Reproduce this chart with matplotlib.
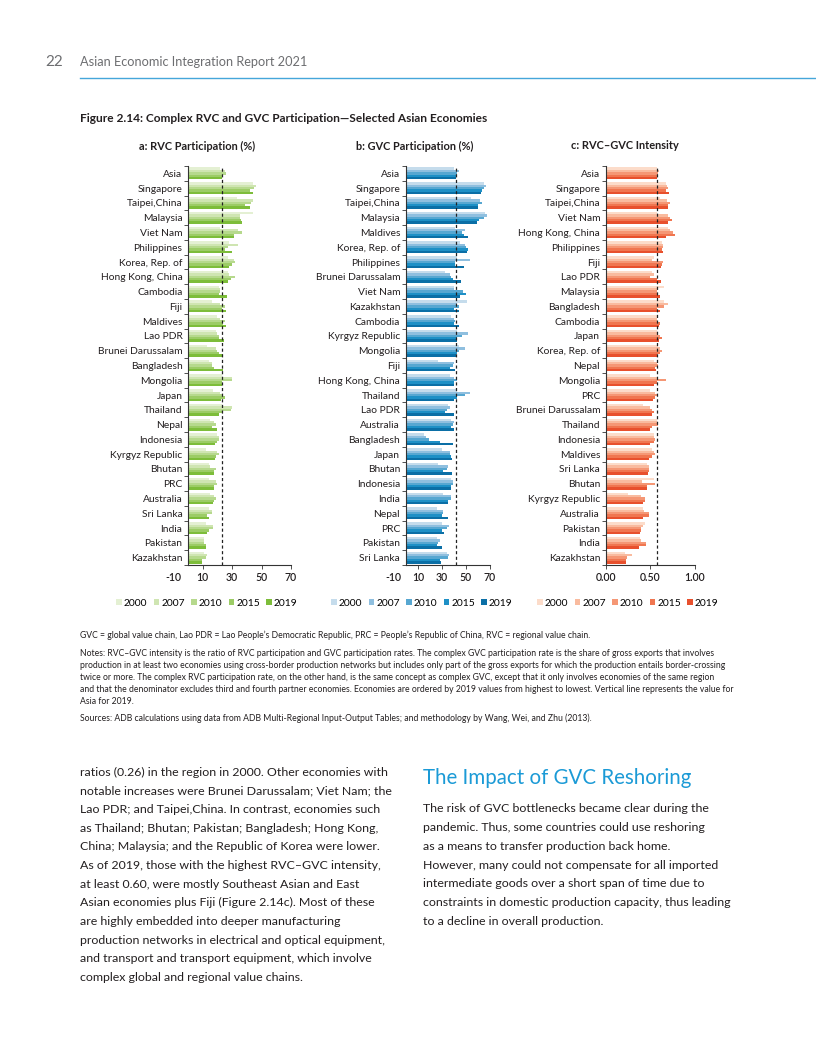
import matplotlib
matplotlib.use("Agg")
import matplotlib.pyplot as plt
from matplotlib.patches import Patch

plt.rcParams['font.family'] = ['Lato', 'DejaVu Sans']

years = ['2000', '2007', '2010', '2015', '2019']

# a: RVC participation (%)
rvc_names = ['Asia', 'Singapore', 'Taipei,China', 'Malaysia', 'Viet Nam', 'Philippines',
             'Korea, Rep. of', 'Hong Kong, China', 'Cambodia', 'Fiji', 'Maldives', 'Lao PDR',
             'Brunei Darussalam', 'Bangladesh', 'Mongolia', 'Japan', 'Thailand', 'Nepal',
             'Indonesia', 'Kyrgyz Republic', 'Bhutan', 'PRC', 'Australia', 'Sri Lanka',
             'India', 'Pakistan', 'Kazakhstan']
rvc_2000 = [22, 44, 33, 44, 22, 28, 27, 27, 21, 16, 20, 19, 13, 14, 23, 17, 23, 15, 20, 12, 14, 14, 15, 14, 12, 11, 11]
rvc_2007 = [25, 46, 44, 35, 34, 34, 31, 28, 22, 22, 22, 20, 19, 16, 30, 22, 30, 18, 21, 20, 15, 19, 18, 16, 17, 11, 13]
rvc_2010 = [26, 45, 43, 35, 37, 27, 32, 32, 22, 25, 25, 21, 20, 16, 30, 24, 29, 19, 21, 21, 19, 20, 19, 16, 17, 11, 12]
rvc_2015 = [24, 42, 39, 36, 31, 25, 30, 29, 21, 23, 24, 21, 21, 18, 23, 25, 24, 16, 20, 19, 18, 18, 18, 13, 14, 12, 9.5]
rvc_2019 = [23, 44, 42, 37, 31, 30, 28, 27, 26.5, 26, 25.5, 24.3, 24, 23.5, 23, 22.5, 21, 19.7, 18.6, 18.3, 17.8, 17.5, 17, 14, 13, 12, 9.5]

# b: GVC participation (%)
gvc_names = ['Asia', 'Singapore', 'Taipei,China', 'Malaysia', 'Maldives', 'Korea, Rep. of',
             'Philippines', 'Brunei Darussalam', 'Viet Nam', 'Kazakhstan', 'Cambodia',
             'Kyrgyz Republic', 'Mongolia', 'Fiji', 'Hong Kong, China', 'Thailand', 'Lao PDR',
             'Australia', 'Bangladesh', 'Japan', 'Bhutan', 'Indonesia', 'India', 'Nepal', 'PRC',
             'Pakistan', 'Sri Lanka']
gvc_2000 = [40, 65, 54, 66, 41, 45, 42.5, 33, 40, 51, 38, 42.5, 44, 27, 37, 42.5, 35.5, 38, 15, 30, 27, 38, 31, 26, 30, 26, 34]
gvc_2007 = [44, 67, 62, 67.5, 49, 49.5, 53.5, 37, 40, 42.5, 40, 52, 49.5, 40, 40, 53, 37, 40, 17, 37, 35, 39, 38, 31, 36, 28.5, 36]
gvc_2010 = [42.5, 65, 63, 65, 47, 50, 41, 38, 47.5, 44, 41, 47, 44, 39.5, 42.5, 49.5, 34, 39.5, 19.5, 37, 34, 39.5, 38, 31, 34, 27, 35]
gvc_2015 = [42, 63, 60, 61, 48, 51.5, 41, 39, 50, 40, 40, 42.5, 42.5, 36.5, 40, 42.5, 33, 38, 28.5, 38, 31, 38, 35.5, 30, 30, 26, 28.5]
gvc_2019 = [41.7, 62.5, 60, 59.5, 52, 50.8, 48, 45.8, 45, 44.5, 44, 42.5, 41.7, 41, 40.5, 40, 39.9, 39.7, 39, 38.5, 38.3, 38, 35.5, 35, 31.4, 30.5, 29.4]

# c: RVC-GVC intensity
int_names = ['Asia', 'Singapore', 'Taipei,China', 'Viet Nam', 'Hong Kong, China', 'Philippines',
             'Fiji', 'Lao PDR', 'Malaysia', 'Bangladesh', 'Cambodia', 'Japan', 'Korea, Rep. of',
             'Nepal', 'Mongolia', 'PRC', 'Brunei Darussalam', 'Thailand', 'Indonesia', 'Maldives',
             'Sri Lanka', 'Bhutan', 'Kyrgyz Republic', 'Australia', 'Pakistan', 'India', 'Kazakhstan']
int_2000 = [0.57, 0.68, 0.61, 0.57, 0.70, 0.63, 0.54, 0.52, 0.65, 0.65, 0.57, 0.57, 0.59, 0.54, 0.50, 0.50, 0.42, 0.57, 0.54, 0.52, 0.46, 0.54, 0.25, 0.42, 0.44, 0.385, 0.22]
int_2007 = [0.60, 0.69, 0.69, 0.70, 0.72, 0.64, 0.52, 0.54, 0.59, 0.70, 0.57, 0.59, 0.61, 0.57, 0.59, 0.55, 0.50, 0.58, 0.54, 0.54, 0.48, 0.41, 0.40, 0.43, 0.42, 0.40, 0.30]
int_2010 = [0.59, 0.70, 0.72, 0.72, 0.75, 0.64, 0.64, 0.50, 0.57, 0.65, 0.57, 0.61, 0.63, 0.59, 0.68, 0.57, 0.52, 0.59, 0.55, 0.55, 0.49, 0.55, 0.44, 0.48, 0.40, 0.45, 0.24]
int_2015 = [0.59, 0.67, 0.70, 0.74, 0.78, 0.63, 0.63, 0.57, 0.59, 0.57, 0.61, 0.63, 0.61, 0.55, 0.57, 0.55, 0.54, 0.52, 0.54, 0.52, 0.48, 0.46, 0.44, 0.48, 0.39, 0.45, 0.23]
int_2019 = [0.577, 0.71, 0.70, 0.695, 0.67, 0.64, 0.62, 0.618, 0.61, 0.605, 0.60, 0.595, 0.58, 0.56, 0.545, 0.53, 0.52, 0.50, 0.495, 0.49, 0.47, 0.46, 0.42, 0.415, 0.385, 0.37, 0.23]

greens = ['#e4f0d3', '#cfe5b2', '#b6d98d', '#9ccc66', '#7dbd3a']
blues = ['#c5dcec', '#8fbfdf', '#57a7d1', '#1e90c6', '#0b6fa6']
reds = ['#fcdcca', '#f9bb9f', '#f59775', '#f07650', '#e8502d']

W, H = 816, 1056
fig = plt.figure(figsize=(W / 100, H / 100), dpi=100)
txt = '#231f20'


def box(x0, x1, y0, y1):
    return [x0 / W, 1 - y1 / H, (x1 - x0) / W, (y1 - y0) / H]


def panel(rect, names, series, colors, xmin, xmax, ticks, ticklabels, zero_at):
    ax = fig.add_axes(rect)
    n = len(names)
    for j, vals in enumerate(series):
        ys = [i + (j - 2) * 0.16 for i in range(n)]
        ax.barh(ys, vals, height=0.16, color=colors[j], linewidth=0)
    # vertical line = Asia 2019 value
    ax.axvline(series[-1][0], color='#222222', lw=0.9, ls=(0, (2.5, 2)))
    ax.set_xlim(xmin, xmax)
    ax.set_ylim(n - 0.5, -0.5)
    for s in ['top', 'right']:
        ax.spines[s].set_visible(False)
    ax.spines['left'].set_position(('data', zero_at))
    ax.spines['bottom'].set_bounds(zero_at, xmax)
    for s in ['left', 'bottom']:
        ax.spines[s].set_linewidth(0.8)
        ax.spines[s].set_color('#333333')
    ax.set_yticks(range(n))
    ax.set_yticklabels(names, fontsize=7.4, color=txt)
    ax.set_yticks([i + 0.5 for i in range(-1, n)], minor=True)
    ax.tick_params(axis='y', which='major', length=0, pad=4)
    ax.tick_params(axis='y', which='minor', length=3, width=0.6, color='#333333')
    ax.set_xticks(ticks)
    ax.set_xticklabels(ticklabels, fontsize=7.6, color=txt, weight='semibold')
    ax.tick_params(axis='x', length=3, width=0.6, color='#333333', pad=2)
    if ticks[0] < zero_at:
        ax.xaxis.get_major_ticks()[0].tick1line.set_visible(False)
    return ax


# panel a: zero at x=188, 70 at x=291
panel(box(173.3, 291, 166, 565), rvc_names,
      [rvc_2000, rvc_2007, rvc_2010, rvc_2015, rvc_2019], greens,
      -10, 70, [-10, 10, 30, 50, 70], ['-10', '10', '30', '50', '70'], 0)
# panel b: zero at x=405.7, 70 at x=490
panel(box(393.7, 490, 166, 565), gvc_names,
      [gvc_2000, gvc_2007, gvc_2010, gvc_2015, gvc_2019], blues,
      -10, 70, [-10, 10, 30, 50, 70], ['-10', '10', '30', '50', '70'], 0)
# panel c
panel(box(605.7, 695, 166, 565), int_names,
      [int_2000, int_2007, int_2010, int_2015, int_2019], reds,
      0, 1.0, [0, 0.5, 1.0], ['0.00', '0.50', '1.00'], 0)

# panel titles
fig.text(197 / W, 1 - 146 / H, 'a: RVC Participation (%)', fontsize=7.9, weight='bold',
         ha='center', va='center', color=txt)
fig.text(415 / W, 1 - 146 / H, 'b: GVC Participation (%)', fontsize=7.9, weight='bold',
         ha='center', va='center', color=txt)
fig.text(625 / W, 1 - 146 / H, 'c: RVC\u2013GVC Intensity', fontsize=7.9, weight='bold',
         ha='center', va='center', color=txt)

# legends
for cx, colors in [(207, greens), (422, blues), (628, reds)]:
    handles = [Patch(facecolor=c, edgecolor='none', label=y) for c, y in zip(colors, years)]
    fig.legend(handles=handles, loc='center', bbox_to_anchor=(cx / W, 1 - 603 / H),
               ncol=5, frameon=False, fontsize=7.4, handlelength=0.55, handleheight=0.55,
               handletextpad=0.2, columnspacing=0.6, borderaxespad=0, borderpad=0)

# page header
fig.text(45 / W, 1 - 62 / H, '22', fontsize=11, color='#6d6e71', va='center')
fig.text(80 / W, 1 - 62 / H, 'Asian Economic Integration Report 2021', fontsize=9.2,
         color='#6d6e71', va='center')
fig.add_artist(plt.Line2D([80 / W, 1], [1 - 78 / H, 1 - 78 / H], color='#45a6da', lw=1.0))

fig.text(80 / W, 1 - 118 / H,
         'Figure 2.14: Complex RVC and GVC Participation\u2014Selected Asian Economies',
         fontsize=8.6, weight='bold', color=txt, va='center')

# notes
notes = [
    (635, 'GVC = global value chain, Lao PDR = Lao People\u2019s Democratic Republic, PRC = People\u2019s Republic of China, RVC = regional value chain.'),
    (653, 'Notes: RVC\u2013GVC intensity is the ratio of RVC participation and GVC participation rates. The complex GVC participation rate is the share of gross exports that involves'),
    (665, 'production in at least two economies using cross-border production networks but includes only part of the gross exports for which the production entails border-crossing'),
    (677, 'twice or more. The complex RVC participation rate, on the other hand, is the same concept as complex GVC, except that it only involves economies of the same region'),
    (689, 'and that the denominator excludes third and fourth partner economies. Economies are ordered by 2019 values from highest to lowest. Vertical line represents the value for'),
    (701, 'Asia for 2019.'),
    (718, 'Sources: ADB calculations using data from ADB Multi-Regional Input-Output Tables; and methodology by Wang, Wei, and Zhu (2013).'),
]
for y, s in notes:
    fig.text(80 / W, 1 - y / H, s, fontsize=6.25, color=txt, va='center')

# body text
left_lines = [
    'ratios (0.26) in the region in 2000. Other economies with',
    'notable increases were Brunei Darussalam; Viet Nam; the',
    'Lao PDR; and Taipei,China. In contrast, economies such',
    'as Thailand; Bhutan; Pakistan; Bangladesh; Hong Kong,',
    'China; Malaysia; and the Republic of Korea were lower.',
    'As of 2019, those with the highest RVC\u2013GVC intensity,',
    'at least 0.60, were mostly Southeast Asian and East',
    'Asian economies plus Fiji (Figure 2.14c). Most of these',
    'are highly embedded into deeper manufacturing',
    'production networks in electrical and optical equipment,',
    'and transport and transport equipment, which involve',
    'complex global and regional value chains.',
]
for k, s in enumerate(left_lines):
    fig.text(80 / W, 1 - (772 + k * 18.7) / H, s, fontsize=8.9, color=txt, va='center')

fig.text(423 / W, 1 - 778 / H, 'The Impact of GVC Reshoring', fontsize=14.8,
         color='#1b9ad6', va='center')
right_lines = [
    'The risk of GVC bottlenecks became clear during the',
    'pandemic. Thus, some countries could use reshoring',
    'as a means to transfer production back home.',
    'However, many could not compensate for all imported',
    'intermediate goods over a short span of time due to',
    'constraints in domestic production capacity, thus leading',
    'to a decline in overall production.',
]
for k, s in enumerate(right_lines):
    fig.text(423 / W, 1 - (809 + k * 18.7) / H, s, fontsize=8.9, color=txt, va='center')

fig.savefig('out.png', dpi=100)
